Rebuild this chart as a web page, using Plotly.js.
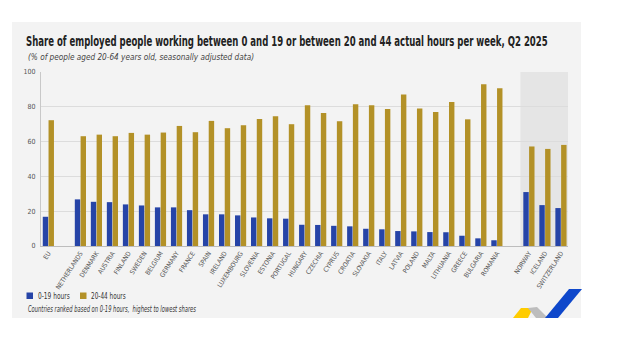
<!DOCTYPE html>
<html>
<head>
<meta charset="utf-8">
<script src="https://cdn.plot.ly/plotly-3.0.1.min.js"></script>
<style>html,body{margin:0;padding:0;background:#fff;}#chart{width:624px;height:339px;}</style>
</head>
<body>
<div id="chart"></div>
<script>
// ---- data ----
const countries = ['EU','NETHERLANDS','DENMARK','AUSTRIA','FINLAND','SWEDEN','BELGIUM','GERMANY','FRANCE','SPAIN','IRELAND','LUXEMBOURG','SLOVENIA','ESTONIA','PORTUGAL','HUNGARY','CZECHIA','CYPRUS','CROATIA','SLOVAKIA','ITALY','LATVIA','POLAND','MALTA','LITHUANIA','GREECE','BULGARIA','ROMANIA','NORWAY','ICELAND','SWITZERLAND'];
const groups = ['EU','member','member','member','member','member','member','member','member','member','member','member','member','member','member','member','member','member','member','member','member','member','member','member','member','member','member','member','efta','efta','efta'];
const hours0to19 = [16.8,26.8,25.4,25.2,23.9,23.3,22.2,22.2,20.6,18.2,18.2,17.6,16.4,15.9,15.7,12.2,12.1,11.6,11.3,9.9,9.6,8.6,8.4,8.0,7.9,5.9,4.4,3.3,31.0,23.5,21.8];
const hours20to44 = [72.3,63.1,64.0,63.1,65.0,64.0,65.2,69.0,65.4,71.9,67.7,69.4,73.0,74.6,70.0,80.9,76.5,71.7,81.5,80.9,78.8,87.0,79.0,77.0,82.8,72.8,92.9,90.6,57.2,55.8,58.1];
const seriesNames = ['0-19 hours','20-44 hours'];
const yTicks = [0,20,40,60,80,100];
const titleText = 'Share of employed people working between 0 and 19 or between 20 and 44 actual hours per week, Q2 2025';
const subtitleText = '(% of people aged 20-64 years old, seasonally adjusted data)';
const noteText = 'Countries ranked based on 0-19 hours,  highest to lowest shares';

// ---- style ----
const BLUE = '#2644A7', GOLD = '#B39127';
const FONT = 'DejaVu Sans Condensed, Liberation Sans Narrow, sans-serif';
const W = 624, H = 339, L = 41, R = 56, T = 72, B = 93;
const pw = W - L - R, ph = H - T - B;
const px = x => (x - L) / pw;
const py = y => (H - B - y) / ph;

// positions with a one-slot gap between groups
const pos = [];
let p = 0;
for (let i = 0; i < countries.length; i++) {
  if (i > 0 && groups[i] !== groups[i - 1]) p += 1;
  pos.push(p);
  p += 1;
}
const xMin = -0.46, xMax = pos[pos.length - 1] + 0.44;
const firstEfta = pos[groups.indexOf('efta')];

const traces = [
  {type:'bar', name:seriesNames[0], x:pos, y:hours0to19, marker:{color:BLUE}, showlegend:false, hoverinfo:'y'},
  {type:'bar', name:seriesNames[1], x:pos, y:hours20to44, marker:{color:GOLD}, showlegend:false, hoverinfo:'y'}
];

function poly(pts) {
  return 'M' + pts.map(q => px(q[0]) + ',' + py(q[1])).join('L') + 'Z';
}

const shapes = [
  {type:'rect', xref:'paper', yref:'paper', x0:px(12), x1:px(581), y0:py(318), y1:py(22), fillcolor:'#f3f3f3', line:{width:0}, layer:'below'},
  {type:'rect', xref:'x', yref:'y', x0:firstEfta - 0.53, x1:xMax, y0:0, y1:100, fillcolor:'#e5e5e5', line:{width:0}, layer:'below'},
  {type:'rect', xref:'paper', yref:'paper', x0:px(26.5), x1:px(33), y0:py(299), y1:py(292.5), fillcolor:BLUE, line:{width:0}},
  {type:'rect', xref:'paper', yref:'paper', x0:px(80), x1:px(86.5), y0:py(299), y1:py(292.5), fillcolor:GOLD, line:{width:0}},
  {type:'path', xref:'paper', yref:'paper', path:poly([[513,318],[528,318],[533,308],[521,308]]), fillcolor:'#FFCC00', line:{width:0}},
  {type:'path', xref:'paper', yref:'paper', path:poly([[528,308],[537,307],[548,318],[536,318]]), fillcolor:'#BDBDBD', line:{width:0}},
  {type:'path', xref:'paper', yref:'paper', path:poly([[545,318],[558,318],[582,289],[569,289]]), fillcolor:'#0E47CB', line:{width:0}}
];

const annotations = [
  {xref:'paper', yref:'paper', x:px(26), y:py(57), xanchor:'left', yanchor:'middle', align:'left', showarrow:false,
   text:subtitleText, font:{family:FONT, size:9, color:'#444', style:'italic'}},
  {xref:'paper', yref:'paper', x:px(36), y:py(296), xanchor:'left', yanchor:'middle', align:'left', showarrow:false,
   text:seriesNames[0], font:{family:FONT, size:9, color:'#333'}},
  {xref:'paper', yref:'paper', x:px(89.3), y:py(296), xanchor:'left', yanchor:'middle', align:'left', showarrow:false,
   text:seriesNames[1], font:{family:FONT, size:9, color:'#333'}},
  {xref:'paper', yref:'paper', x:px(26), y:py(309), xanchor:'left', yanchor:'middle', align:'left', showarrow:false,
   text:noteText, font:{family:FONT, size:8.5, color:'#333', style:'italic'}}
];

const layout = {
  width:W, height:H,
  margin:{l:L, r:R, t:T, b:B, pad:0},
  paper_bgcolor:'#ffffff',
  plot_bgcolor:'rgba(0,0,0,0)',
  title:{text:titleText,
         x:26/W, xanchor:'left', xref:'container', y:1 - 41/H, yanchor:'middle', yref:'container',
         font:{family:FONT, size:14.5, color:'#222', weight:'bold'}},
  barmode:'group', bargap:0.28, bargroupgap:0.06,
  showlegend:false,
  xaxis:{type:'linear', range:[xMin, xMax], tickvals:pos, ticktext:countries, tickangle:-57,
         showgrid:false, zeroline:false, showline:true, linecolor:'#bdbdbd', linewidth:1,
         ticks:'', tickfont:{family:FONT, size:6.5, color:'#555'}, fixedrange:true},
  yaxis:{range:[0,100], tickvals:yTicks, showgrid:true, gridcolor:'#dcdcdc', gridwidth:1,
         zeroline:false, showline:true, linecolor:'#c8c8c8', linewidth:1, ticks:'',
         ticklabelstandoff:3, tickfont:{family:FONT, size:7, color:'#555'}, fixedrange:true},
  shapes:shapes,
  annotations:annotations
};

// squeeze condensed texts to the widths they take in the reference
const fitWidths = [[subtitleText, 226], [noteText, 168], [seriesNames[0], 31.7], [seriesNames[1], 34.7]];
function fitTexts() {
  document.querySelectorAll('#chart svg text').forEach(t => {
    const s = t.textContent;
    if (s === titleText) {
      const natural = t.getComputedTextLength();
      const k = 522 / natural;
      const x0 = parseFloat(t.getAttribute('x')) || 26;
      t.setAttribute('transform', 'matrix(' + k + ',0,0,1,' + (x0 * (1 - k)) + ',0)');
      return;
    }
    fitWidths.forEach(([str, w]) => {
      if (s === str) {
        t.setAttribute('textLength', w);
        t.setAttribute('lengthAdjust', 'spacingAndGlyphs');
        t.setAttribute('text-anchor', 'start');
      }
    });
  });
}

Plotly.newPlot('chart', traces, layout, {displayModeBar:false, staticPlot:true}).then(fitTexts);
</script>
</body>
</html>
